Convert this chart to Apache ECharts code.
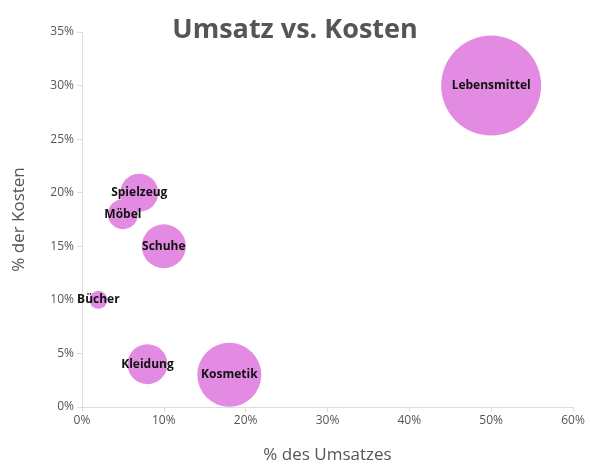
<!DOCTYPE html>
<html><head><meta charset="utf-8">
<script src="https://cdn.jsdelivr.net/npm/echarts@6/dist/echarts.min.js"></script>
<style>html,body{margin:0;padding:0;background:#fff}#c{width:590px;height:473px}</style>
</head><body><div id="c"></div>
<script>
const names = ["Lebensmittel","Spielzeug","Möbel","Schuhe","Bücher","Kleidung","Kosmetik"];
const umsatz = [50,7,5,10,2,8,18];
const kosten = [30,20,18,15,10,4,3];
const bubble = [100,38,30,44,18,40,64];
const xTicks = [0,10,20,30,40,50,60];
const yTicks = [0,5,10,15,20,25,30,35];
const data = names.map((n,i)=>({name:n,value:[umsatz[i],kosten[i],bubble[i]]}));
const chart = echarts.init(document.getElementById('c'));
const font = "Open Sans, sans-serif";
chart.setOption({
  animation:false,
  title:{text:"Umsatz vs. Kosten",left:"center",top:12,textStyle:{fontFamily:font,fontSize:27,fontWeight:"bold",color:"#555"}},
  grid:{left:82,right:17,top:32,bottom:66},
  xAxis:{type:"value",min:xTicks[0],max:xTicks[xTicks.length-1],interval:10,
    name:"% des Umsatzes",nameLocation:"middle",nameGap:40,nameTextStyle:{fontFamily:font,fontSize:17,color:"#555"},
    axisLine:{lineStyle:{color:"#ddd"}},axisTick:{show:true,lineStyle:{color:"#ddd"}},splitLine:{show:false},
    axisLabel:{formatter:"{value}%",color:"#555",fontFamily:font,fontSize:12}},
  yAxis:{type:"value",min:yTicks[0],max:yTicks[yTicks.length-1],interval:5,
    name:"% der Kosten",nameLocation:"middle",nameGap:54,nameTextStyle:{fontFamily:font,fontSize:17,color:"#555"},
    axisLine:{show:true,lineStyle:{color:"#ddd"}},axisTick:{show:true,lineStyle:{color:"#ddd"}},splitLine:{show:false},
    axisLabel:{formatter:"{value}%",color:"#555",fontFamily:font,fontSize:12}},
  series:[{type:"scatter",data:data,symbolSize:v=>v[2],
    itemStyle:{color:"#e38be3",opacity:1},
    label:{show:true,position:"inside",formatter:p=>p.name,color:"#111",fontWeight:"bold",fontFamily:font,fontSize:12}}]
});
</script></body></html>
